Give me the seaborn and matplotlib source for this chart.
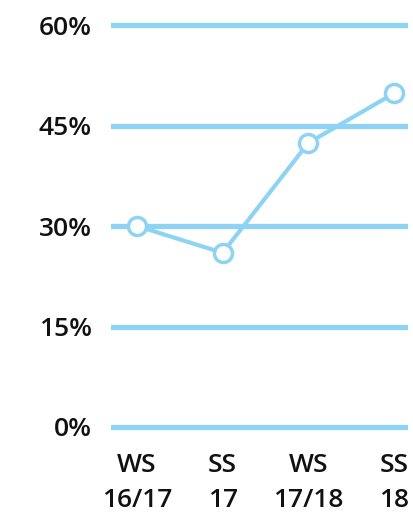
import matplotlib
matplotlib.use("Agg")
import matplotlib.pyplot as plt
import pandas as pd
import seaborn as sns

# Dati
semesters = ["WS\n16/17", "SS\n17", "WS\n17/18", "SS\n18"]
shares = [30.0, 26.0, 42.4, 49.8]
y_ticks = [0, 15, 30, 45, 60]
y_labels = ["0%", "15%", "30%", "45%", "60%"]

blue = "#8fd3f4"

sns.set_theme(style="white")
plt.rcParams["font.family"] = ["Open Sans", "DejaVu Sans"]

df = pd.DataFrame({"semester": semesters, "share": shares})

fig = plt.figure(figsize=(4.13, 5.19), dpi=100)
ax = fig.add_axes([111 / 413, 78.6 / 519, 297 / 413, 428.8 / 519])

sns.lineplot(data=df, x="semester", y="share", sort=False, color=blue,
             linewidth=3, marker="o", markersize=13, markerfacecolor="white",
             markeredgecolor=blue, markeredgewidth=2.5, ax=ax, zorder=3)

ax.set_ylim(-2, 62)
ax.set_xlim(-0.303, 3.163)
ax.set_yticks(y_ticks)
ax.set_yticklabels(y_labels)
ax.yaxis.grid(True, color=blue, linewidth=3.8)
ax.xaxis.grid(False)
ax.set_axisbelow(True)
for s in ax.spines.values():
    s.set_visible(False)
ax.tick_params(axis="y", length=0, pad=14, labelsize=19, labelcolor="#111111")
ax.tick_params(axis="x", length=0, pad=9, labelsize=19, labelcolor="#111111")
for lbl in ax.get_xticklabels() + ax.get_yticklabels():
    lbl.set_fontweight("semibold")
for lbl in ax.get_xticklabels():
    lbl.set_linespacing(1.55)
ax.set_xlabel("")
ax.set_ylabel("")

fig.savefig("out.png", dpi=100)
